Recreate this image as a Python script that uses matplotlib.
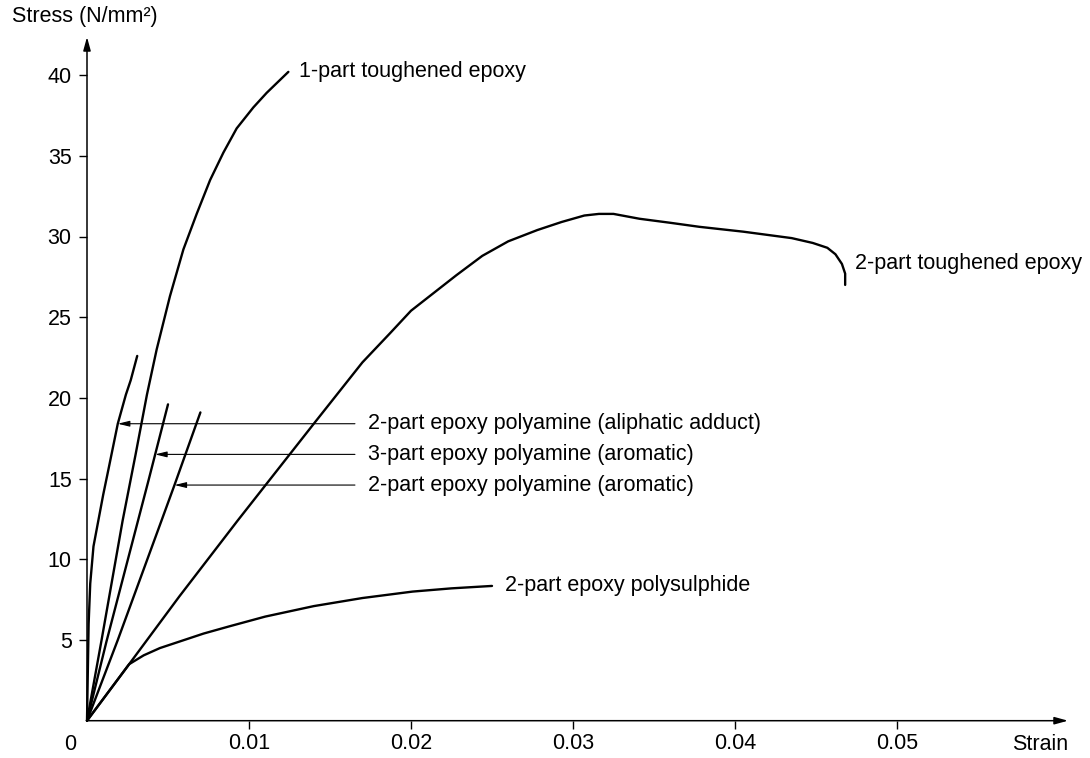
import matplotlib
matplotlib.use("Agg")
import matplotlib.pyplot as plt

plt.rcParams['font.family'] = ['Liberation Sans', 'DejaVu Sans']

# ---- data (strain, stress N/mm^2) ----
one_part_strain = [0, 0.0009, 0.0022, 0.0030, 0.0037, 0.0043, 0.00512, 0.00595, 0.00677,
                   0.0076, 0.00842, 0.00924, 0.01027, 0.01109, 0.01243]
one_part_stress = [0, 5.0, 12.4, 16.5, 20.2, 23.0, 26.3, 29.2, 31.4,
                   33.5, 35.2, 36.7, 38.0, 38.9, 40.2]

two_part_tough_strain = [0, 0.0026, 0.0057, 0.0093, 0.0140, 0.0170, 0.0187, 0.0200, 0.0214,
                         0.0228, 0.0244, 0.0260, 0.0278, 0.0293, 0.0307, 0.0316, 0.0325,
                         0.0341, 0.0360, 0.0378, 0.0405, 0.0435, 0.0448, 0.0457, 0.0462,
                         0.0466, 0.0468, 0.0468]
two_part_tough_stress = [0, 3.5, 7.7, 12.4, 18.4, 22.2, 24.0, 25.4, 26.5,
                         27.6, 28.8, 29.7, 30.4, 30.9, 31.3, 31.4, 31.4,
                         31.1, 30.85, 30.6, 30.3, 29.9, 29.6, 29.3, 28.9,
                         28.3, 27.7, 27.0]

aliphatic_strain = [0, 0.00005, 0.0001, 0.0002, 0.0004, 0.0007, 0.0010, 0.00135, 0.0019,
                    0.0024, 0.0027, 0.0031]
aliphatic_stress = [0, 3.0, 6.0, 8.5, 10.8, 12.4, 14.0, 15.7, 18.4,
                    20.2, 21.1, 22.6]

three_part_strain = [0, 0.0012, 0.0025, 0.0038, 0.0050]
three_part_stress = [0, 4.9, 9.9, 14.9, 19.6]

aromatic_strain = [0, 0.0019, 0.0046, 0.0054, 0.0070]
aromatic_stress = [0, 5.0, 12.4, 14.6, 19.1]

polysulphide_strain = [0, 0.0026, 0.0035, 0.0045, 0.0057, 0.0072, 0.0088, 0.0110, 0.0140,
                       0.0170, 0.0201, 0.0225, 0.0250]
polysulphide_stress = [0, 3.5, 4.05, 4.5, 4.9, 5.4, 5.85, 6.45, 7.1,
                       7.6, 8.0, 8.2, 8.35]

# labels for the polyamine curves with leader arrows
leader_labels = ["2-part epoxy polyamine (aliphatic adduct)",
                 "3-part epoxy polyamine (aromatic)",
                 "2-part epoxy polyamine (aromatic)"]
leader_tip_strain = [0.0019, 0.0042, 0.0054]
leader_stress = [18.4, 16.5, 14.6]

x_ticks = [0.01, 0.02, 0.03, 0.04, 0.05]
x_ticklabels = ["0.01", "0.02", "0.03", "0.04", "0.05"]
y_ticks = [5, 10, 15, 20, 25, 30, 35, 40]
y_ticklabels = ["5", "10", "15", "20", "25", "30", "35", "40"]

# ---- figure ----
W, H = 1090, 758
fig = plt.figure(figsize=(W / 100, H / 100), dpi=100)
ox, oy = 87, 720.7
tx, ty = 1068, 37
ax = fig.add_axes([ox / W, (H - oy) / H, (tx - ox) / W, (oy - ty) / H])
xmax = (tx - ox) / 16200
ymax = (oy - ty) / 16.14
ax.set_xlim(0, xmax)
ax.set_ylim(0, ymax)
for s in ax.spines.values():
    s.set_visible(False)

FS = 15.5
lw = 1.7
for xs, ys in [(one_part_strain, one_part_stress),
               (two_part_tough_strain, two_part_tough_stress),
               (aliphatic_strain, aliphatic_stress),
               (three_part_strain, three_part_stress),
               (aromatic_strain, aromatic_stress),
               (polysulphide_strain, polysulphide_stress)]:
    ax.plot(xs, ys, color='black', lw=lw, solid_capstyle='round', solid_joinstyle='round',
            clip_on=False)

# axes arrows
ax.annotate('', xy=(1, 0), xytext=(0, 0), xycoords='axes fraction',
            arrowprops=dict(arrowstyle='-|>,head_length=0.8,head_width=0.22', lw=1.1,
                            color='black', shrinkA=0, shrinkB=0))
ax.annotate('', xy=(0, 1), xytext=(0, 0), xycoords='axes fraction',
            arrowprops=dict(arrowstyle='-|>,head_length=0.8,head_width=0.22', lw=1.1,
                            color='black', shrinkA=0, shrinkB=0))

ax.set_xticks(x_ticks)
ax.set_xticklabels(x_ticklabels, fontsize=FS)
ax.set_yticks(y_ticks)
ax.set_yticklabels(y_ticklabels, fontsize=FS)
ax.tick_params(axis='both', direction='out', length=6, width=1.0, color='black')
ax.tick_params(axis='x', pad=3)
ax.tick_params(axis='y', pad=5)

# origin label, axis titles
ax.text(-0.00105, -1.5, "0", fontsize=FS, ha='center', va='center', clip_on=False)
ax.text(0.0571, -1.5, "Strain", fontsize=FS, ha='left', va='center', clip_on=False)
ax.text(-0.00463, 43.6, "Stress (N/mm²)", fontsize=FS, ha='left', va='center', clip_on=False)

# curve labels
ax.text(0.01309, 40.2, "1-part toughened epoxy", fontsize=FS, ha='left', va='center')
ax.text(0.0474, 28.35, "2-part toughened epoxy", fontsize=FS, ha='left', va='center')
ax.text(0.0258, 8.35, "2-part epoxy polysulphide", fontsize=FS, ha='left', va='center')

for lab, tip, st in zip(leader_labels, leader_tip_strain, leader_stress):
    ax.annotate('', xy=(tip, st), xytext=(0.01654, st),
                arrowprops=dict(arrowstyle='-|>,head_length=0.7,head_width=0.17', lw=0.8,
                                color='black', shrinkA=0, shrinkB=0))
    ax.text(0.01735, st, lab, fontsize=FS, ha='left', va='center')

fig.savefig("out.png", dpi=100)
